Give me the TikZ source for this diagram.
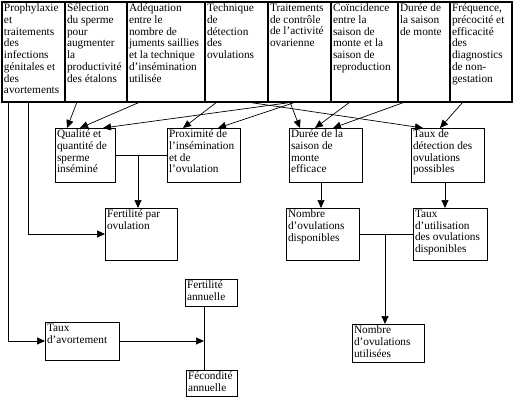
\documentclass[tikz,border=0pt]{standalone}
\usepackage{fontspec}
\setmainfont{Liberation Serif}
\usetikzlibrary{arrows.meta}
\newcommand{\boxtxt}[3]{\parbox[c][#2pt][t]{#1pt}{\raggedright #3}}
\tikzset{
  cell/.style={draw, line width=0.7pt, anchor=north west, inner sep=2pt, outer sep=0pt,
    font=\fontsize{11.3}{11.7}\selectfont},
  topcell/.style={cell, line width=1.6pt},
  link/.style={line width=0.7pt, -{Triangle[length=8pt,width=7pt]}},
  plain/.style={line width=0.7pt}
}

\begin{document}
\begin{tikzpicture}[x=1pt,y=-1pt]
  \useasboundingbox (0,0) rectangle (515,400);

  % top row: levers
  \node[topcell] (proph) at (2,2) {\boxtxt{59}{96}{Prophylaxie\\et\\traitements\\des\\infections\\génitales et\\des\\avortements}};
  \node[topcell] (selec) at (65,2) {\boxtxt{58}{96}{Sélection\\du sperme\\pour\\augmenter\\la\\productivité\\des étalons}};
  \node[topcell] (adeq) at (127,2) {\boxtxt{74}{96}{Adéquation\\entre le\\nombre de\\juments saillies\\et la technique\\d'insémination\\utilisée}};
  \node[topcell] (techn) at (205,2) {\boxtxt{59}{96}{Technique\\de\\détection\\des\\ovulations}};
  \node[topcell] (trait) at (268,2) {\boxtxt{59}{96}{Traitements\\de contrôle\\de l'activité\\ovarienne}};
  \node[topcell] (coinc) at (331,2) {\boxtxt{63}{96}{Coïncidence\\entre la\\saison de\\monte et la\\saison de\\reproduction}};
  \node[topcell] (duree) at (398,2) {\boxtxt{48}{96}{Durée de\\la saison\\de monte}};
  \node[topcell] (freq) at (450,2) {\boxtxt{58}{96}{Fréquence,\\précocité et\\efficacité\\des\\diagnostics\\de non-\\gestation}};

  % second row
  \node[cell] (qual) at (55,128) {\boxtxt{56}{50}{Qualité et\\quantité de\\sperme\\inséminé}};
  \node[cell] (prox) at (167,128) {\boxtxt{69}{50}{Proximité de\\l'insémination\\et de\\l'ovulation}};
  \node[cell] (dureff) at (289,128) {\boxtxt{69}{50}{Durée de la\\saison de\\monte\\efficace}};
  \node[cell] (tauxdet) at (411,128) {\boxtxt{69}{50}{Taux de\\détection des\\ovulations\\possibles}};

  % third row
  \node[cell] (fertov) at (105,208) {\boxtxt{68}{48}{Fertilité par\\ovulation}};
  \node[cell] (nbdisp) at (286,208) {\boxtxt{69}{48}{Nombre\\d'ovulations\\disponibles}};
  \node[cell] (tauxutil) at (413,208) {\boxtxt{70}{48}{Taux\\d'utilisation\\des ovulations\\disponibles}};

  % bottom
  \node[cell] (fertan) at (185,279) {\boxtxt{48}{23}{Fertilité\\annuelle}};
  \node[cell] (avort) at (45,322) {\boxtxt{70}{34}{Taux\\d'avortement}};
  \node[cell] (fecan) at (186,370) {\boxtxt{47}{22}{Fécondité\\annuelle}};
  \node[cell] (nbutil) at (352,324) {\boxtxt{68}{34}{Nombre\\d'ovulations\\utilisées}};

  % links from the top row
  \draw[link] ([xshift=12pt]selec.south west) -- ([xshift=12pt]qual.north west);
  \draw[link] ([xshift=13pt]adeq.south west) -- ([xshift=25pt]qual.north west);
  \draw[link] ([xshift=26pt]trait.south west) -- ([xshift=48pt]qual.north west);
  \draw[link] ([xshift=12pt]techn.south west) -- ([xshift=16pt]prox.north west);
  \draw[link] ([xshift=28pt]trait.south west) -- ([xshift=51pt]prox.north west);
  \draw[link] ([xshift=42pt]techn.south west) -- ([xshift=12pt]tauxdet.north west);
  \draw[link] ([xshift=22pt]trait.south west) -- ([xshift=11pt]dureff.north west);
  \draw[link] ([xshift=19pt]coinc.south west) -- ([xshift=26pt]dureff.north west);
  \draw[link] ([xshift=7pt]duree.south west) -- ([xshift=44pt]dureff.north west);
  \draw[link] ([xshift=13pt]freq.south west) -- ([xshift=29pt]tauxdet.north west);

  % lower links
  \coordinate (jq) at (138,155);
  \draw[plain] (qual.east) -- (prox.west);
  \draw[link] (jq) -- (jq |- fertov.north);
  \draw[link] ([xshift=26pt]proph.south west) |- (fertov.west);
  \draw[link] ([xshift=6pt]proph.south west) |- (avort.west);
  \draw[link] ([xshift=32pt]dureff.south west) -- ([xshift=35pt]nbdisp.north west);
  \draw[link] ([xshift=34pt]tauxdet.south west) -- ([xshift=32pt]tauxutil.north west);
  \coordinate (jn) at (385,234);
  \draw[plain] (nbdisp.east) -- (tauxutil.west);
  \draw[link] (jn) -- (jn |- nbutil.north);
  \coordinate (ja) at (204,341);
  \draw[plain] (fertan.south -| ja) -- (fecan.north -| ja);
  \draw[link] (avort.east) -- (ja);
\end{tikzpicture}
\end{document}
